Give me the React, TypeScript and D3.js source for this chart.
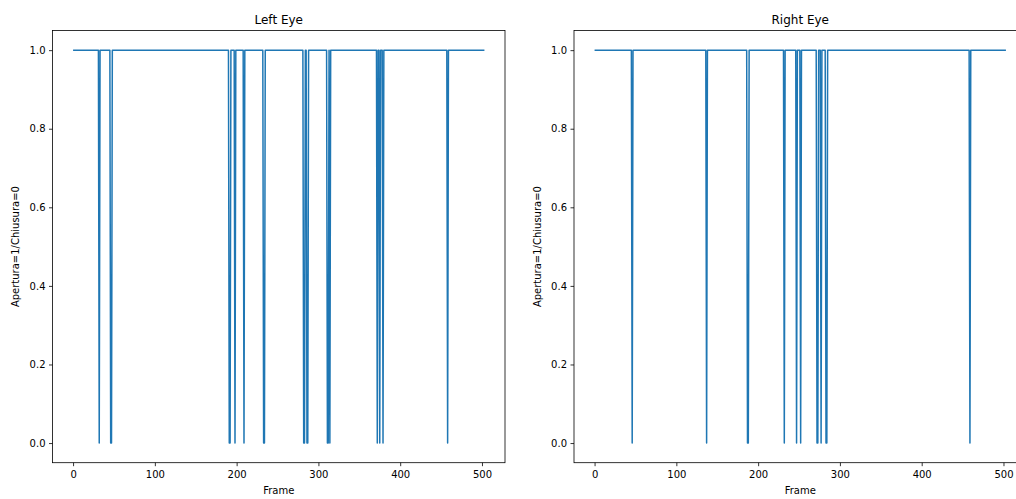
import React, { useEffect, useRef } from 'react';
import * as d3 from 'd3';

// frames 0..503, eye open = 1, closed = 0
const frameCount = 504;
const leftClosedFrames = [32, 46, 47, 191, 192, 198, 209, 233, 234, 282, 283, 286, 287, 311, 312, 314, 372, 375, 379, 458];
const rightClosedFrames = [46, 137, 187, 188, 232, 247, 252, 272, 273, 277, 283, 284, 459];
const xTicks = [0, 100, 200, 300, 400, 500];
const yTicks = [0, 0.2, 0.4, 0.6, 0.8, 1.0];

const panels = [
    { title: 'Left Eye', closed: leftClosedFrames, left: 52.5 },
    { title: 'Right Eye', closed: rightClosedFrames, left: 574 },
];

function buildSeries(closed: number[]) {
    const set = new Set(closed);
    return d3.range(frameCount).map(f => ({ frame: f, value: set.has(f) ? 0 : 1 }));
}

export default function App() {
    const ref = useRef<SVGSVGElement>(null);

    useEffect(() => {
        const svg = d3.select(ref.current);
        svg.selectAll('*').remove();

        const top = 30.5, bottom = 462.7, w = 452.5;
        const font = 'DejaVu Sans, sans-serif';

        panels.forEach(p => {
            const data = buildSeries(p.closed);
            const pad = (frameCount - 1) * 0.05;
            const x = d3.scaleLinear().domain([-pad, frameCount - 1 + pad]).range([p.left, p.left + w]);
            const y = d3.scaleLinear().domain([-0.05, 1.05]).range([bottom, top]);

            const g = svg.append('g');

            const line = d3.line<{ frame: number; value: number }>()
                .x(d => x(d.frame))
                .y(d => y(d.value));

            g.append('path')
                .datum(data)
                .attr('d', line)
                .attr('fill', 'none')
                .attr('stroke', '#1f77b4')
                .attr('stroke-width', 1.5)
                .attr('stroke-linejoin', 'round');

            // spines
            g.append('rect')
                .attr('x', p.left)
                .attr('y', top)
                .attr('width', w)
                .attr('height', bottom - top)
                .attr('fill', 'none')
                .attr('stroke', '#000')
                .attr('stroke-width', 0.8);

            const xAxis = g.append('g')
                .attr('transform', 'translate(0,' + bottom + ')')
                .call(d3.axisBottom(x).tickValues(xTicks).tickSize(3.5).tickPadding(4.5).tickFormat(d3.format('d')));
            const yAxis = g.append('g')
                .attr('transform', 'translate(' + p.left + ',0)')
                .call(d3.axisLeft(y).tickValues(yTicks).tickSize(3.5).tickPadding(3.5).tickFormat(d3.format('.1f')));

            [xAxis, yAxis].forEach(a => {
                a.select('.domain').remove();
                a.selectAll('line').attr('stroke', '#000').attr('stroke-width', 0.8);
                a.selectAll('text').attr('fill', '#000').style('font-family', font).style('font-size', '10px');
            });

            g.append('text')
                .attr('x', p.left + w / 2)
                .attr('y', 494)
                .attr('text-anchor', 'middle')
                .style('font-family', font)
                .style('font-size', '10px')
                .text('Frame');

            g.append('text')
                .attr('transform', 'translate(' + (p.left - 33.5) + ',' + ((top + bottom) / 2) + ') rotate(-90)')
                .attr('text-anchor', 'middle')
                .style('font-family', font)
                .style('font-size', '10px')
                .text('Apertura=1/Chiusura=0');

            g.append('text')
                .attr('x', p.left + w / 2)
                .attr('y', 24)
                .attr('text-anchor', 'middle')
                .style('font-family', font)
                .style('font-size', '12px')
                .text(p.title);
        });
    }, []);

    return (
        <svg ref={ref} width={1016} height={499} style={{ position: 'absolute', left: 0, top: 0, background: '#fff' }}></svg>
    );
}
